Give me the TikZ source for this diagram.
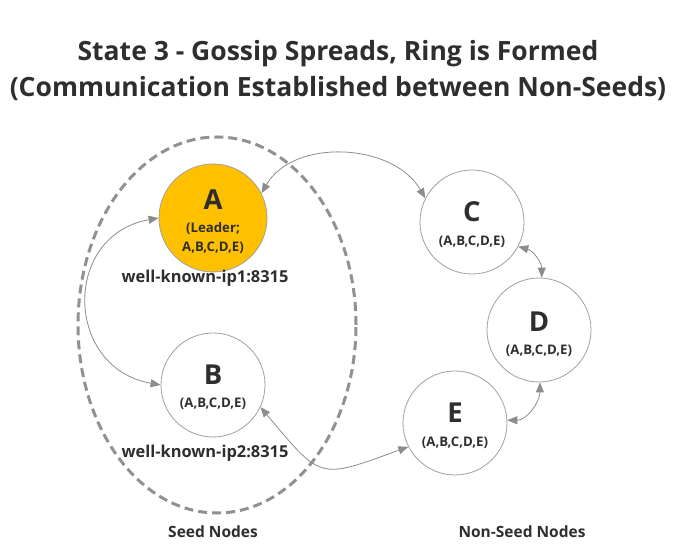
\documentclass[tikz,border=0pt]{standalone}
\usepackage{fontspec}
\setmainfont{Open Sans}
\usetikzlibrary{arrows.meta}
\definecolor{txt}{HTML}{2E2E2E}
\definecolor{circgray}{HTML}{A0A0A0}
\definecolor{arrgray}{HTML}{8C8C8C}
\definecolor{dashgray}{HTML}{919191}
\definecolor{leader}{HTML}{FFC000}
\tikzset{
  peer/.style={circle, draw=circgray, line width=0.8pt, minimum size=104pt, inner sep=0pt},
  letter/.style={anchor=base, inner sep=0pt, font=\fontsize{27.5}{30}\selectfont\bfseries, text=txt},
  info/.style={anchor=base, inner sep=0pt, font=\fontsize{13.2}{15}\selectfont\bfseries, text=txt},
  lbl/.style={anchor=base, inner sep=0pt, font=\fontsize{16.4}{19}\selectfont\bfseries, text=txt},
  grp/.style={anchor=base, inner sep=0pt, font=\fontsize{15.5}{18}\selectfont\bfseries, text=txt},
  ttl/.style={anchor=base, inner sep=0pt, font=\fontsize{26.5}{30}\selectfont\bfseries, text=txt},
  link/.style={draw=arrgray, line width=0.8pt, {Triangle[length=10pt,width=8pt]}-{Triangle[length=10pt,width=8pt]}}
}
\begin{document}
\begin{tikzpicture}[x=1pt,y=1pt]
\useasboundingbox (0,0) rectangle (676,548);
% title
\node[ttl] (t1) at (338,487) {State 3 - Gossip Spreads, Ring is Formed};
\node[ttl] (t2) at (338,451) {(Communication Established between Non-Seeds)};
% seed group
\draw[dashgray, line width=3pt, dash pattern=on 9pt off 5pt] (217,223) ellipse [x radius=139, y radius=188];
% peers
\node[peer, fill=leader, minimum size=108pt] (A) at (213,330) {};
\node[peer] (B) at (213,163) {};
\node[peer] (C) at (472,326) {};
\node[peer] (D) at (539,218) {};
\node[peer] (E) at (455,125) {};
% texts in peers
\node[letter] (Al) at ([yshift=8pt]A.center) {A};
\node[info] (Ai1) at ([yshift=-15pt]A.center) {(Leader;};
\node[info] (Ai2) at ([yshift=-34pt]A.center) {A,B,C,D,E)};
\node[letter] (Bl) at (B.center) {B};
\node[info] (Bi) at ([yshift=-23pt]B.center) {(A,B,C,D,E)};
\node[letter] (Cl) at (C.center) {C};
\node[info] (Ci) at ([yshift=-24pt]C.center) {(A,B,C,D,E)};
\node[letter] (Dl) at ([yshift=-2pt]D.center) {D};
\node[info] (Di) at ([yshift=-25pt]D.center) {(A,B,C,D,E)};
\node[letter] (El) at (E.center) {E};
\node[info] (Ei) at ([yshift=-24pt]E.center) {(A,B,C,D,E)};
% labels
\node[lbl] (ip1) at (205,265) {well-known-ip1:8315};
\node[lbl] (ip2) at (205,90) {well-known-ip2:8315};
\node[grp] (seed) at (213,11) {Seed Nodes};
\node[grp] (nonseed) at (522,11) {Non-Seed Nodes};
% links
\draw[link] (A.27) to[out=60, in=120] (C.153);
\draw[link] (A.180) to[out=190, in=170, looseness=1.5] (B.180);
\draw[link] (B.-25) to[out=-50, in=200, looseness=1.6] (E.207);
\draw[link] (C.-28) to[out=-15, in=90] (D.87);
\draw[link] (D.-89) to[out=-90, in=0] (E.3);
\end{tikzpicture}
\end{document}
